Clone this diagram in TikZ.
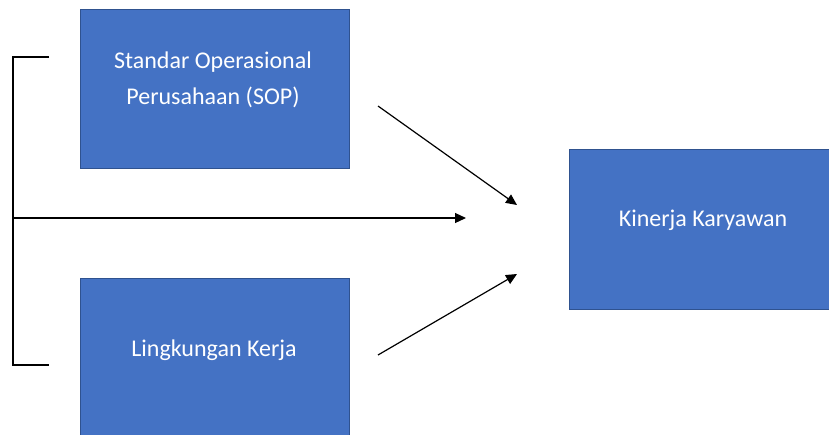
\documentclass[tikz,border=0pt]{standalone}
\usepackage{fontspec}
\setmainfont{Carlito}
\usetikzlibrary{arrows.meta}
\definecolor{boxblue}{HTML}{4472C4}
\definecolor{boxedge}{HTML}{2F528F}
\begin{document}
\begin{tikzpicture}[x=1pt,y=-1pt,
  bluebox/.style={draw=boxedge,line width=0.8pt,fill=boxblue},
  boxtext/.style={text=white,font=\fontsize{24}{36}\selectfont,align=center,inner sep=0pt},
  conn/.style={line width=1.2pt,-{Triangle[length=11pt,width=10pt]}}]
\useasboundingbox (0,0) rectangle (829,434);
\begin{scope}
\clip (0,0) rectangle (829,434);
\draw[bluebox] (80,9) rectangle (349,168);
\draw[bluebox] (80,278) rectangle (349,437);
\draw[bluebox] (569,149) rectangle (837,309);
\end{scope}
\node[boxtext] (sop) at (213,80) {Standar Operasional\\Perusahaan (SOP)};
\node[boxtext] (lk) at (214,350) {Lingkungan Kerja};
\node[boxtext] (kk) at (703,220) {Kinerja Karyawan};
\coordinate (btop) at (49,57);
\coordinate (bbot) at (49,365);
\coordinate (bmid) at (13,218);
\coordinate (htip) at (466,218);
\coordinate (a1s) at (378,106);
\coordinate (a1e) at (517,205);
\coordinate (a2s) at (378,355);
\coordinate (a2e) at (517,274);
\draw[line width=1.1pt] (btop) -- (13,57) -- (13,365) -- (bbot);
\draw[conn] (bmid) -- (htip);
\draw[conn] (a1s) -- (a1e);
\draw[conn] (a2s) -- (a2e);
\end{tikzpicture}
\end{document}
